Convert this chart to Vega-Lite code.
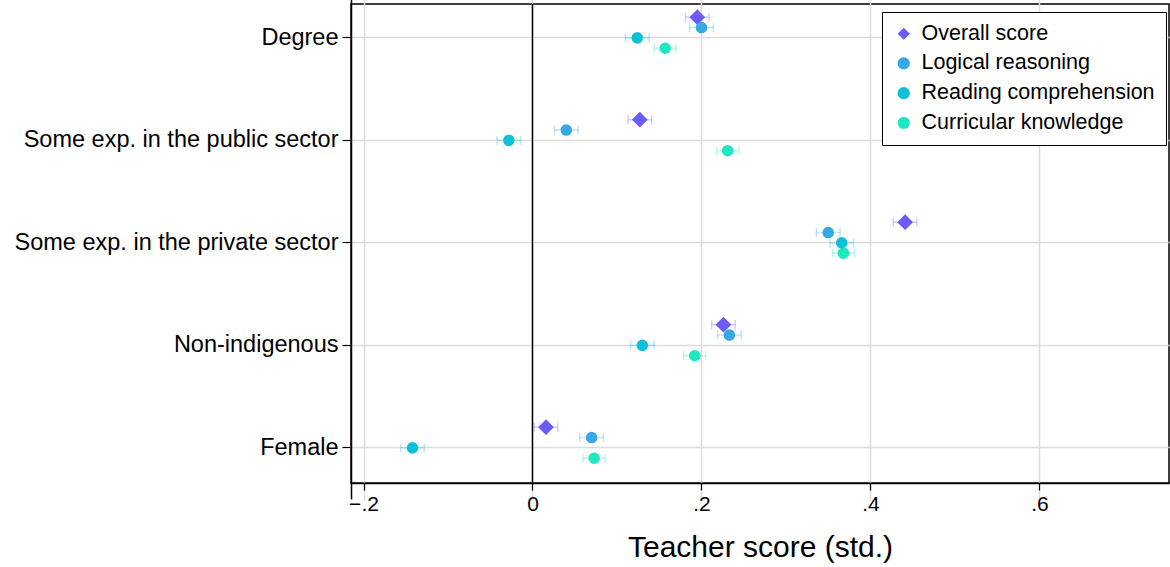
{
  "$schema": "https://vega.github.io/schema/vega-lite/v6.json",
  "width": 818,
  "height": 479,
  "autosize": {"type": "none"},
  "padding": {"left": 351, "top": 4, "right": 1, "bottom": 84},
  "background": "white",
  "config": {
    "font": "Liberation Sans",
    "view": {"stroke": "black", "strokeWidth": 1.5},
    "axis": {"gridColor": "#dcdcdc", "gridWidth": 1.5, "domainColor": "black", "domainWidth": 1.5, "tickColor": "black", "tickWidth": 1.2, "labelColor": "black", "titleColor": "black"},
    "axisY": {"labelFontSize": 23.5, "labelLimit": 500, "tickSize": 9, "labelPadding": 4},
    "axisX": {"labelFontSize": 21, "tickSize": 7, "labelPadding": 3, "titleFontSize": 30, "titleFontWeight": "normal", "titlePadding": 18},
    "legend": {"orient": "none", "legendX": 531, "legendY": 8, "title": null, "strokeColor": "black", "fillColor": "white", "padding": 11, "labelFontSize": 21.5, "labelColor": "black", "rowPadding": 6.7, "symbolStrokeWidth": 0, "labelOffset": 7, "labelLimit": 500, "symbolSize": 150, "symbolOpacity": 1}
  },
  "data": {"values": [
    {"category": "Degree", "series": "Overall score", "est": 0.195, "lo": 0.181, "hi": 0.209},
    {"category": "Degree", "series": "Logical reasoning", "est": 0.200, "lo": 0.186, "hi": 0.214},
    {"category": "Degree", "series": "Reading comprehension", "est": 0.124, "lo": 0.110, "hi": 0.138},
    {"category": "Degree", "series": "Curricular knowledge", "est": 0.157, "lo": 0.144, "hi": 0.170},
    {"category": "Some exp. in the public sector", "series": "Overall score", "est": 0.127, "lo": 0.113, "hi": 0.141},
    {"category": "Some exp. in the public sector", "series": "Logical reasoning", "est": 0.040, "lo": 0.026, "hi": 0.054},
    {"category": "Some exp. in the public sector", "series": "Reading comprehension", "est": -0.028, "lo": -0.042, "hi": -0.014},
    {"category": "Some exp. in the public sector", "series": "Curricular knowledge", "est": 0.231, "lo": 0.218, "hi": 0.244},
    {"category": "Some exp. in the private sector", "series": "Overall score", "est": 0.441, "lo": 0.427, "hi": 0.455},
    {"category": "Some exp. in the private sector", "series": "Logical reasoning", "est": 0.350, "lo": 0.336, "hi": 0.364},
    {"category": "Some exp. in the private sector", "series": "Reading comprehension", "est": 0.366, "lo": 0.352, "hi": 0.380},
    {"category": "Some exp. in the private sector", "series": "Curricular knowledge", "est": 0.368, "lo": 0.355, "hi": 0.381},
    {"category": "Non-indigenous", "series": "Overall score", "est": 0.226, "lo": 0.212, "hi": 0.240},
    {"category": "Non-indigenous", "series": "Logical reasoning", "est": 0.233, "lo": 0.219, "hi": 0.247},
    {"category": "Non-indigenous", "series": "Reading comprehension", "est": 0.130, "lo": 0.116, "hi": 0.144},
    {"category": "Non-indigenous", "series": "Curricular knowledge", "est": 0.192, "lo": 0.179, "hi": 0.205},
    {"category": "Female", "series": "Overall score", "est": 0.016, "lo": 0.002, "hi": 0.030},
    {"category": "Female", "series": "Logical reasoning", "est": 0.070, "lo": 0.056, "hi": 0.084},
    {"category": "Female", "series": "Reading comprehension", "est": -0.142, "lo": -0.156, "hi": -0.128},
    {"category": "Female", "series": "Curricular knowledge", "est": 0.073, "lo": 0.060, "hi": 0.086}
  ]},
  "layer": [
    {
      "data": {"values": [{}]},
      "mark": {"type": "rule", "color": "black", "strokeWidth": 1.5},
      "encoding": {
        "x": {"datum": 0, "type": "quantitative", "scale": {"domain": [-0.2148, 0.7533], "nice": false, "zero": false},
          "axis": {"values": [-0.2, 0, 0.2, 0.4, 0.6], "labelExpr": "datum.value == 0 ? '0' : replace(format(datum.value, '.1f'), '0.', '.')", "title": "Teacher score (std.)", "grid": true}}
      }
    },
    {
      "mark": {"type": "rule", "strokeWidth": 1.5, "opacity": 0.3},
      "encoding": {
        "x": {"field": "lo", "type": "quantitative"},
        "x2": {"field": "hi"},
        "y": {"field": "category", "type": "nominal", "sort": ["Degree", "Some exp. in the public sector", "Some exp. in the private sector", "Non-indigenous", "Female"], "scale": {"type": "band", "paddingInner": 0, "paddingOuter": 0, "range": [-17.55, 494.95]},
          "axis": {"title": null, "grid": true}},
        "yOffset": {"field": "series", "type": "nominal", "sort": ["Overall score", "Logical reasoning", "Reading comprehension", "Curricular knowledge"], "scale": {"type": "point", "range": [30.75, 61.75], "padding": 0}},
        "color": {"field": "series", "type": "nominal", "sort": ["Overall score", "Logical reasoning", "Reading comprehension", "Curricular knowledge"], "scale": {"domain": ["Overall score", "Logical reasoning", "Reading comprehension", "Curricular knowledge"], "range": ["#6a5cf4", "#36a8e6", "#0fc1d8", "#1ee8c0"]}}
      }
    },
    {
      "mark": {"type": "tick", "thickness": 1.5, "size": 9, "opacity": 0.3},
      "encoding": {
        "x": {"field": "lo", "type": "quantitative"},
        "y": {"field": "category", "type": "nominal", "sort": ["Degree", "Some exp. in the public sector", "Some exp. in the private sector", "Non-indigenous", "Female"]},
        "yOffset": {"field": "series", "type": "nominal", "sort": ["Overall score", "Logical reasoning", "Reading comprehension", "Curricular knowledge"]},
        "color": {"field": "series", "type": "nominal", "sort": ["Overall score", "Logical reasoning", "Reading comprehension", "Curricular knowledge"]}
      }
    },
    {
      "mark": {"type": "tick", "thickness": 1.5, "size": 9, "opacity": 0.3},
      "encoding": {
        "x": {"field": "hi", "type": "quantitative"},
        "y": {"field": "category", "type": "nominal", "sort": ["Degree", "Some exp. in the public sector", "Some exp. in the private sector", "Non-indigenous", "Female"]},
        "yOffset": {"field": "series", "type": "nominal", "sort": ["Overall score", "Logical reasoning", "Reading comprehension", "Curricular knowledge"]},
        "color": {"field": "series", "type": "nominal", "sort": ["Overall score", "Logical reasoning", "Reading comprehension", "Curricular knowledge"]}
      }
    },
    {
      "mark": {"type": "point", "filled": true, "opacity": 1},
      "encoding": {
        "x": {"field": "est", "type": "quantitative"},
        "y": {"field": "category", "type": "nominal", "sort": ["Degree", "Some exp. in the public sector", "Some exp. in the private sector", "Non-indigenous", "Female"]},
        "yOffset": {"field": "series", "type": "nominal", "sort": ["Overall score", "Logical reasoning", "Reading comprehension", "Curricular knowledge"]},
        "color": {"field": "series", "type": "nominal", "sort": ["Overall score", "Logical reasoning", "Reading comprehension", "Curricular knowledge"]},
        "shape": {"field": "series", "type": "nominal", "sort": ["Overall score", "Logical reasoning", "Reading comprehension", "Curricular knowledge"], "scale": {"domain": ["Overall score", "Logical reasoning", "Reading comprehension", "Curricular knowledge"], "range": ["diamond", "circle", "circle", "circle"]}},
        "size": {"condition": {"test": "datum.series === 'Overall score'", "value": 250}, "value": 135}
      }
    }
  ]
}
